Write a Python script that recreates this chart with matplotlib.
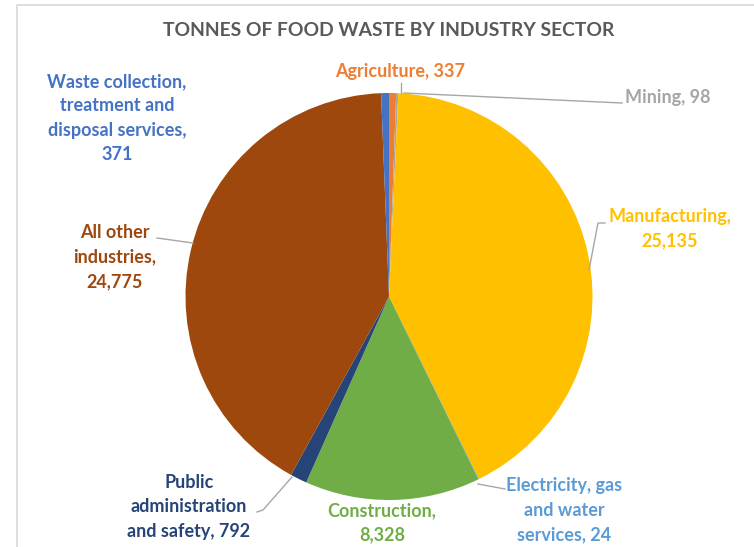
import matplotlib
matplotlib.use("Agg")
import matplotlib.pyplot as plt
from matplotlib.lines import Line2D

categories = ["Agriculture", "Mining", "Manufacturing", "Electricity, gas and water services",
              "Construction", "Public administration and safety", "All other industries",
              "Waste collection, treatment and disposal services"]
values = [337, 98, 25135, 24, 8328, 792, 24775, 371]
colors = ["#ED7D31", "#A5A5A5", "#FFC000", "#5B9BD5", "#70AD47", "#264478", "#9E480E", "#4472C4"]

label_texts = [
    "Agriculture, 337",
    "Mining, 98",
    "Manufacturing,\n25,135",
    "Electricity, gas\nand water\nservices, 24",
    "Construction,\n8,328",
    "Public\nadministration\nand safety, 792",
    "All other\nindustries,\n24,775",
    "Waste collection,\ntreatment and\ndisposal services,\n371",
]
# positions in image pixel coords (x, y of block center), alignment
label_pos = [(400, 72, "center"), (625, 98, "left"), (670, 229, "center"), (564, 510, "center"),
             (382, 523, "center"), (189, 507, "center"), (115, 257, "center"), (117, 118, "center")]
leaders = [
    [(401, 83), (401, 93)],
    [(404, 93), (622, 103)],
    [(589, 270), (598, 223), (605, 223)],
    [(478, 484), (505, 489)],
    None,
    [(292, 477), (263, 510), (257, 512)],
    [(157, 238), (193, 243)],
    None,
]

W, H = 754, 547
# pie centre and radius in image pixels
pie_cx, pie_cy, pie_r = 389, 296.5, 203.5

fig = plt.figure(figsize=(W / 100, H / 100), dpi=100)
ax = fig.add_axes([0, 0, 1, 1])
ax.set_xlim(0, W)
ax.set_ylim(0, H)
ax.set_aspect("equal")
ax.axis("off")

ax.pie(values, colors=colors, startangle=90, counterclock=False,
       center=(pie_cx, H - pie_cy), radius=pie_r, frame=True,
       wedgeprops=dict(linewidth=0))
ax.set_xlim(0, W)
ax.set_ylim(0, H)
ax.set_aspect("equal")
ax.axis("off")

font = "Lato"

# chart area border
ax.add_line(Line2D([17, 17, W], [0, H - 5, H - 5], color="#D9D9D9", lw=1.2, zorder=5))

ax.text(389, H - 30, "TONNES OF FOOD WASTE BY INDUSTRY SECTOR", ha="center", va="center",
        fontsize=13.9, fontweight="bold", color="#595959", family=font, zorder=10)

for txt, (x, y, ha), c in zip(label_texts, label_pos, colors):
    ax.text(x, H - y, txt, ha=ha, va="center",
            fontsize=13, fontweight="bold", color=c, family=font, linespacing=1.52,
            multialignment="center", zorder=10)

for seg in leaders:
    if seg:
        xs = [p[0] for p in seg]
        ys = [H - p[1] for p in seg]
        ax.add_line(Line2D(xs, ys, color="#A6A6A6", lw=1, zorder=8))

fig.savefig("out.png", dpi=100, facecolor="white")
